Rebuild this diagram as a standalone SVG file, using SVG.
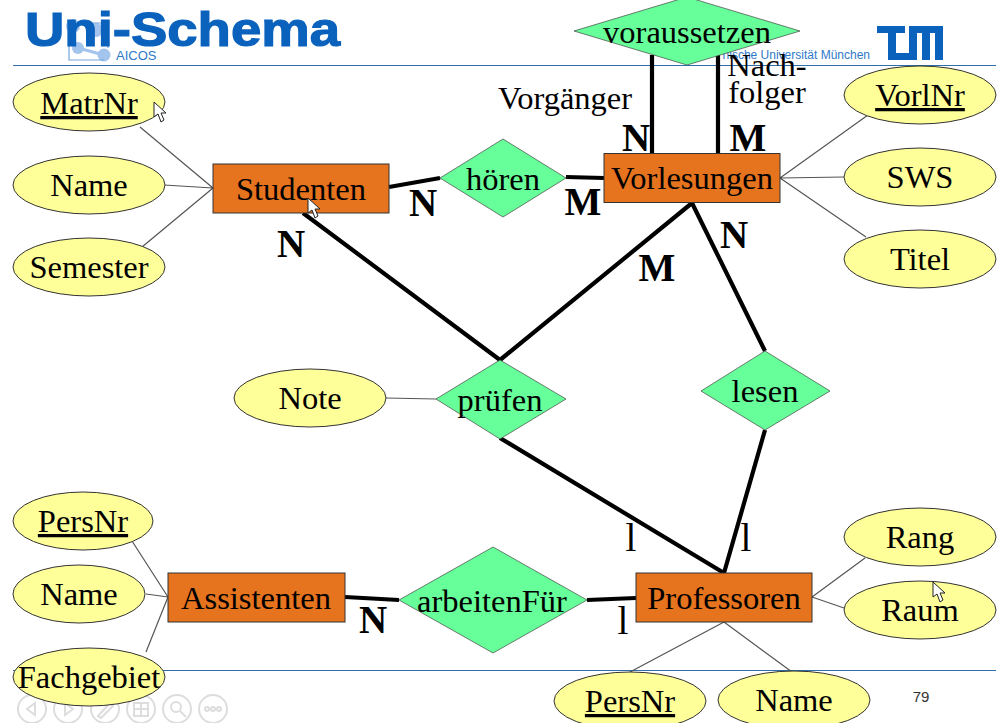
<svg xmlns="http://www.w3.org/2000/svg" width="1004" height="723" viewBox="0 0 1004 723">
<style>
text{font-family:"Liberation Serif","Times New Roman",serif;fill:#000}
.t{font-size:32.500px;text-anchor:middle}
.b{font-size:39px;font-weight:bold;text-anchor:middle}
.e{fill:#ffff99;stroke:#333;stroke-width:1}
.d{fill:#66ff99;stroke:#444;stroke-width:.7}
.r{fill:#e6731e;stroke:#333;stroke-width:1}
.thin{stroke:#555;stroke-width:1.2;fill:none}
.thick{stroke:#000;stroke-width:4.200;fill:none}
.rule{stroke:#2f6fa8;stroke-width:1.2}
.nav{fill:none;stroke:#ddd;stroke-width:2}
.cur{fill:#fff;stroke:#222;stroke-width:1}
</style>
<rect width="1004" height="723" fill="#fff"/>
<g id="chrome">
<line class="rule" x1="13" y1="65.500" x2="996" y2="65.500"/>
<line class="rule" x1="13" y1="670.500" x2="996" y2="670.500"/>
<g fill="#a3c4ec" stroke="none">
<circle cx="73" cy="26" r="7"/><circle cx="96" cy="30" r="7"/><circle cx="78" cy="48" r="6"/><circle cx="104" cy="55" r="6.500"/>
</g>
<path d="M69 24V60H104M80 23H108V48" fill="none" stroke="#76a5dc" stroke-width="1.200"/>
<path d="M78 48L104 55" stroke="#a3c4ec" stroke-width="3"/>
<text x="116" y="60" style="font-family:'Liberation Sans',sans-serif;font-size:13px;fill:#2f78c8">AICOS</text>
<text x="25" y="46" textLength="315" lengthAdjust="spacingAndGlyphs" style="font-family:'Liberation Sans',sans-serif;font-size:48px;font-weight:bold;fill:#0a62bd;stroke:#0a62bd;stroke-width:1.200">Uni-Schema</text>
<text x="870" y="59" text-anchor="end" style="font-family:'Liberation Sans',sans-serif;font-size:12px;fill:#2f78c8">nische Universität München</text>
<path d="M877 26H905V33H896V53H909V26H943V60H935V33H930V60H922V33H917V60H888V33H877Z" fill="#0a62bd"/>
<g class="nav">
<circle cx="32" cy="709" r="14"/><circle cx="68" cy="709" r="14"/><circle cx="105" cy="709" r="14"/><circle cx="141" cy="709" r="14"/><circle cx="177" cy="709" r="14"/><circle cx="213" cy="709" r="14"/>
<path d="M35 703L27 709L35 715ZM65 703L73 709L65 715ZM98 716L110 703L113 706L101 718ZM134 703H148V716H134ZM141 703V716M134 709H148"/>
<circle cx="176" cy="707" r="5"/><path d="M180 711L186 717"/>
<circle cx="207" cy="709" r="2"/><circle cx="213" cy="709" r="2"/><circle cx="219" cy="709" r="2"/>
</g>
<text x="921" y="702" style="font-family:'Liberation Sans',sans-serif;font-size:15px;fill:#333;text-anchor:middle">79</text>
</g>
<g id="connectors">
<path class="thin" d="M140 127L213 188M164 185L213 188M142 247L213 188M868 115L780 178M844 177L780 178M866 237L780 178M386 398L436 399M132 541L168 597M146 594L168 597M146 652L168 597M865 558L812 597M844 608L812 597M630 672L724 622M792 672L724 622"/>
<path class="thick" d="M389 187L440 178M566 177L604 178M345 597L399 600M587 600L636 598M652 55V153M718 55V153M303 213L500 360M692 203L500 360M692 203L765 351M500 438L724 573M765 430L724 573"/>
</g>
<g id="MatrNr"><ellipse class="e" cx="89" cy="102" rx="76" ry="29"/><text class="t" x="89" y="114" text-decoration="underline">MatrNr</text></g>
<g id="Name1"><ellipse class="e" cx="89" cy="185" rx="76" ry="29"/><text class="t" x="89" y="196">Name</text></g>
<g id="Semester"><ellipse class="e" cx="89" cy="267" rx="76" ry="29"/><text class="t" x="89" y="278">Semester</text></g>
<g id="VorlNr"><ellipse class="e" cx="920" cy="95" rx="76" ry="29"/><text class="t" x="920" y="106" text-decoration="underline">VorlNr</text></g>
<g id="SWS"><ellipse class="e" cx="920" cy="177" rx="76" ry="29"/><text class="t" x="920" y="188">SWS</text></g>
<g id="Titel"><ellipse class="e" cx="920" cy="259" rx="76" ry="29"/><text class="t" x="920" y="270">Titel</text></g>
<g id="Note"><ellipse class="e" cx="310" cy="398" rx="76" ry="29"/><text class="t" x="310" y="409">Note</text></g>
<g id="PersNr1"><ellipse class="e" cx="83" cy="521" rx="70" ry="29"/><text class="t" x="83" y="532" text-decoration="underline">PersNr</text></g>
<g id="Name2"><ellipse class="e" cx="79" cy="594" rx="66" ry="29"/><text class="t" x="79" y="605">Name</text></g>
<g id="Fachgebiet"><ellipse class="e" cx="89" cy="677" rx="76" ry="29"/><text class="t" x="89" y="688">Fachgebiet</text></g>
<g id="Rang"><ellipse class="e" cx="920" cy="537" rx="76" ry="29"/><text class="t" x="920" y="548">Rang</text></g>
<g id="Raum"><ellipse class="e" cx="920" cy="610" rx="76" ry="29"/><text class="t" x="920" y="621">Raum</text></g>
<g id="PersNr2"><ellipse class="e" cx="630" cy="701" rx="76" ry="29"/><text class="t" x="630" y="712" text-decoration="underline">PersNr</text></g>
<g id="Name3"><ellipse class="e" cx="794" cy="700" rx="76" ry="29"/><text class="t" x="794" y="711">Name</text></g>
<g id="Studenten"><rect class="r" x="213" y="164" width="176" height="49"/><text class="t" x="301" y="200">Studenten</text></g>
<g id="Vorlesungen"><rect class="r" x="604" y="153.500" width="176" height="49"/><text class="t" x="692" y="189">Vorlesungen</text></g>
<g id="Assistenten"><rect class="r" x="168" y="573" width="177" height="49"/><text class="t" x="256" y="609">Assistenten</text></g>
<g id="Professoren"><rect class="r" x="636" y="573" width="176" height="49"/><text class="t" x="724" y="609">Professoren</text></g>
<g id="voraussetzen"><polygon class="d" points="574,31 687,-3 800,31 687,65"/><text class="t" x="687" y="43">voraussetzen</text></g>
<g id="hoeren"><polygon class="d" points="440,178 503,139 566,178 503,217"/><text class="t" x="503" y="190">hören</text></g>
<g id="pruefen"><polygon class="d" points="436,399 500,360 566,399 500,439"/><text class="t" x="500" y="411">prüfen</text></g>
<g id="lesen"><polygon class="d" points="701,391 765,351 830,391 765,430"/><text class="t" x="765" y="402">lesen</text></g>
<g id="arbeitenFuer"><polygon class="d" points="399,600 493,547 587,600 493,653"/><text class="t" x="492" y="612">arbeitenFür</text></g>
<g id="labels">
<text class="t" x="565" y="109">Vorgänger</text>
<text class="t" x="767" y="76">Nach-</text>
<text class="t" x="767" y="103">folger</text>
<text class="b" x="636" y="151">N</text>
<text class="b" x="748" y="151">M</text>
<text class="b" x="423" y="216">N</text>
<text class="b" x="583" y="215">M</text>
<text class="b" x="291" y="257">N</text>
<text class="b" x="657" y="281">M</text>
<text class="b" x="734" y="248">N</text>
<text class="b" x="373" y="633">N</text>
<text class="t" x="631" y="551" style="font-size:39px">l</text>
<text class="t" x="746" y="551" style="font-size:39px">l</text>
<text class="t" x="623" y="634" style="font-size:39px">l</text>
</g>
<g id="cursors">
<path class="cur" d="M154 102V117L158 114L161 122L164 120L161 113L166 113Z"/>
<path class="cur" d="M308 198V213L312 210L315 218L318 216L315 209L320 209Z"/>
<path class="cur" d="M933 582V597L937 594L940 602L943 600L940 593L945 593Z"/>
</g>
</svg>
